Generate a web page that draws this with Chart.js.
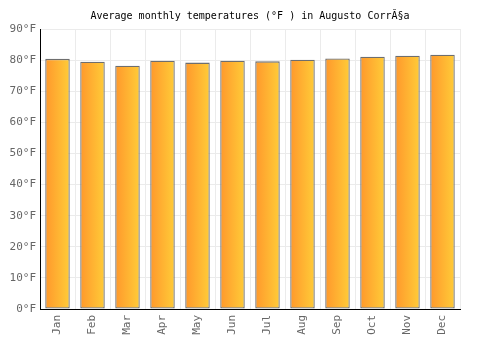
<!DOCTYPE html>
<html>
<head>
<meta charset="utf-8">
<script src="https://cdn.jsdelivr.net/npm/chart.js@4"></script>
<style>
  html, body { margin: 0; padding: 0; background: #fff; }
  #wrap { width: 500px; height: 350px; }
</style>
</head>
<body>
<div id="wrap"><canvas id="tempChart" width="500" height="350"></canvas></div>
<script>
// Data
const months = ['Jan', 'Feb', 'Mar', 'Apr', 'May', 'Jun', 'Jul', 'Aug', 'Sep', 'Oct', 'Nov', 'Dec'];
const avgTempF = [80.4, 79.5, 78.2, 79.8, 79.2, 79.8, 79.6, 80.1, 80.5, 81.1, 81.4, 81.7];
const yTicks = [0, 10, 20, 30, 40, 50, 60, 70, 80, 90];

const FONT = "'DejaVu Sans Mono', monospace";

// Horizontal orange -> yellow gradient for each bar
function barGradient(context) {
    const chart = context.chart;
    const area = chart.chartArea;
    if (!area || context.type !== 'data') return '#ffb030';
    const x = chart.scales.x.getPixelForValue(context.dataIndex);
    const half = (area.right - area.left) / months.length * 0.7 / 2;
    const g = chart.ctx.createLinearGradient(x - half, 0, x + half, 0);
    g.addColorStop(0, '#ff982c');
    g.addColorStop(1, '#ffcc38');
    return g;
}

const ctx = document.getElementById('tempChart').getContext('2d');
new Chart(ctx, {
    type: 'bar',
    data: {
        labels: months,
        datasets: [{
            label: 'Average temperature',
            data: avgTempF,
            backgroundColor: barGradient,
            borderColor: '#6e6e6e',
            borderWidth: 1.3,
            borderSkipped: false,
            barPercentage: 0.7,
            categoryPercentage: 1.0
        }]
    },
    options: {
        responsive: false,
        animation: false,
        layout: { padding: 0 },
        plugins: {
            legend: { display: false },
            tooltip: { enabled: false },
            title: {
                display: true,
                text: 'Average monthly temperatures (°F ) in Augusto CorrĂ§a',
                color: '#000',
                font: { family: FONT, size: 10, weight: 'normal' },
                padding: { top: 10, bottom: 7 }
            }
        },
        scales: {
            y: {
                min: 0,
                max: 90,
                afterBuildTicks: axis => { axis.ticks = yTicks.map(v => ({ value: v })); },
                afterFit: axis => { axis.width = 40; },
                ticks: {
                    color: '#666',
                    font: { family: FONT, size: 11 },
                    padding: 4,
                    callback: v => v + '°F'
                },
                grid: { color: '#ebebeb', drawTicks: false },
                border: { color: '#000', width: 1 }
            },
            // empty right-hand axis, only to keep the 40px right margin
            yRight: {
                position: 'right',
                min: 0,
                max: 90,
                afterFit: axis => { axis.width = 40; },
                ticks: { display: false },
                grid: { display: false, drawTicks: false },
                border: { display: false }
            },
            x: {
                offset: true,
                afterFit: axis => { axis.height = 41; },
                ticks: {
                    color: '#666',
                    font: { family: FONT, size: 11 },
                    maxRotation: 90,
                    minRotation: 90,
                    padding: 6
                },
                grid: { color: '#ebebeb', offset: true, drawTicks: false },
                border: { color: '#000', width: 1 }
            }
        }
    }
});
</script>
</body>
</html>
